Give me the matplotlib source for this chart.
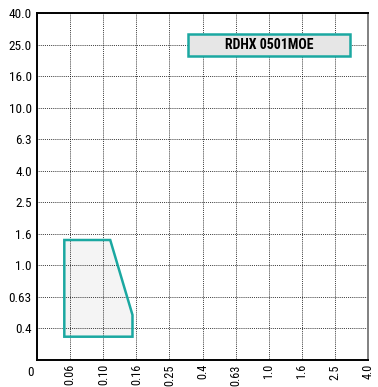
import numpy as np
import matplotlib
matplotlib.use('Agg')
import matplotlib.pyplot as plt
from matplotlib.patches import Rectangle

plt.rcParams['font.family'] = ['Roboto Condensed', 'Liberation Sans Narrow', 'Liberation Sans', 'DejaVu Sans']

# axis tick labels (R5 series, evenly spaced on a log axis)
x_labels = ['0.06', '0.10', '0.16', '0.25', '0.4', '0.63', '1.0', '1.6', '2.5', '4.0']
y_labels = ['0.4', '0.63', '1.0', '1.6', '2.5', '4.0', '6.3', '10.0', '16.0', '25.0', '40.0']
x_steps = np.arange(-6, 4)      # 10**(k/5)
y_steps = np.arange(-2, 9)

# working range polygon
range_x = [0.058, 0.058, 0.11, 0.15, 0.15]
range_y = [0.353, 1.45, 1.45, 0.485, 0.353]
model_name = 'RDHX 0501MOE'

teal = '#1ba8a1'

fig = plt.figure(figsize=(3.78, 3.87), dpi=100)
ax = fig.add_axes([0.0987, 0.0698, 0.8741, 0.8958])
ax.set_xscale('log')
ax.set_yscale('log')
ax.set_xlim(10 ** (-7 / 5), 10 ** (3 / 5))
ax.set_ylim(10 ** (-3 / 5), 10 ** (8 / 5))

ax.set_xticks(10.0 ** (x_steps / 5))
ax.set_xticklabels(x_labels, rotation=90, fontsize=8.8)
ax.set_yticks(10.0 ** (y_steps / 5))
ax.set_yticklabels(y_labels, fontsize=9.5)
ax.minorticks_off()
ax.tick_params(axis='y', length=0, pad=4)
ax.tick_params(axis='x', length=0, pad=3)
ax.grid(True, color='black', linestyle=(0, (1, 1.3)), linewidth=0.6)
ax.set_axisbelow(True)

for s in ['left', 'bottom', 'top']:
    ax.spines[s].set_color('black')
    ax.spines[s].set_linewidth(1.4)
ax.spines['right'].set_color('#808080')
ax.spines['right'].set_linewidth(1.4)

ax.fill(range_x, range_y, color='#f4f4f4', zorder=0.2)
ax.fill(range_x, range_y, facecolor='none', edgecolor=teal, linewidth=1.8, zorder=3)

ax.add_patch(Rectangle((0.457, 0.877), 0.489, 0.064, transform=ax.transAxes,
                       facecolor='#e6e6e6', edgecolor=teal, linewidth=1.8, zorder=4))
ax.text(0.701, 0.909, model_name, transform=ax.transAxes, ha='center', va='center',
        fontsize=10, fontweight='bold', zorder=5)

fig.text(30 / 378, 1 - 373 / 387, '0', ha='center', va='center', fontsize=9.5)

fig.savefig('out.png', dpi=100)
